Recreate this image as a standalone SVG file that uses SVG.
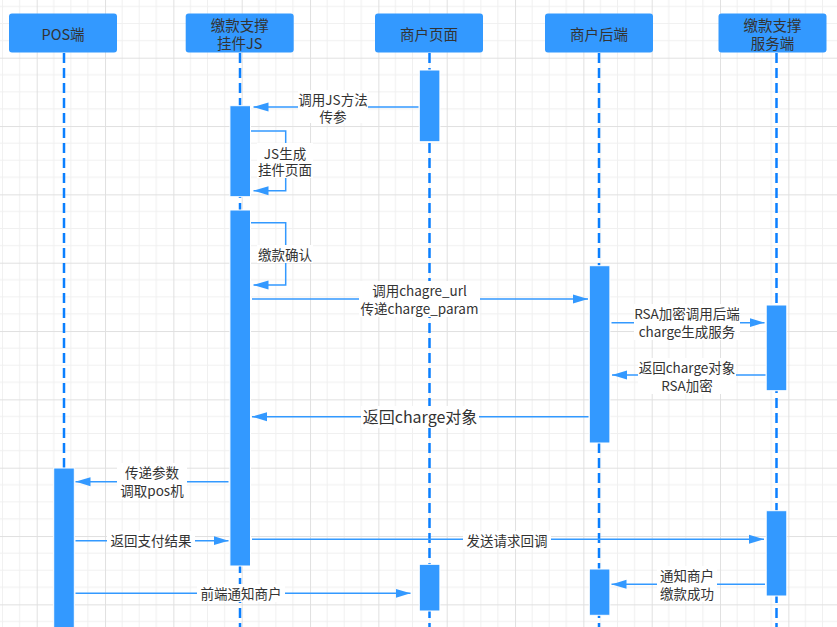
<svg xmlns="http://www.w3.org/2000/svg" width="837" height="627" viewBox="0 0 837 627">
<style>
.hdr{fill:#3399FF;}
.ht{font-family:"Noto Sans CJK SC","Liberation Sans",sans-serif;font-size:14.5px;fill:#333333;text-anchor:middle;dominant-baseline:central;}
.life{stroke:#0A7FFF;stroke-width:2.5;stroke-dasharray:10 5;fill:none;}
.bar{fill:#3399FF;stroke:#ffffff;stroke-width:1;}
.msg{stroke:#3399FF;stroke-width:1.5;fill:none;marker-end:url(#arr);}
.lb{fill:#ffffff;}
.mt{font-family:"Noto Sans CJK SC","Liberation Sans",sans-serif;font-size:13.5px;fill:#333333;text-anchor:middle;dominant-baseline:central;}
.big{font-size:16px;}
</style>
<defs>
<marker id="arr" markerUnits="userSpaceOnUse" markerWidth="15" markerHeight="10" refX="15" refY="5" orient="auto">
<path d="M0,0.5 L15,5 L0,9.5 z" fill="#3399FF"/>
</marker>
<pattern id="grid" patternUnits="userSpaceOnUse" x="36.7" y="57.7" width="68.333" height="68.333">
<path d="M17.083,0V68.333M34.167,0V68.333M51.25,0V68.333M0,17.083H68.333M0,34.167H68.333M0,51.25H68.333" stroke="#f0f0f0" stroke-width="1"/>
<path d="M0.5,0V68.333M0,0.5H68.333" stroke="#e0e0e0" stroke-width="1"/>
</pattern>
</defs>
<rect width="837" height="627" fill="#ffffff"/>
<rect width="837" height="627" fill="url(#grid)"/>

<g id="pos">
<rect class="hdr" x="9" y="13.5" width="108" height="39" rx="3"/>
<text class="ht" x="63" y="33">POS端</text>
<line class="life" x1="64" y1="53" x2="64" y2="627"/>
<rect class="bar" x="53.7" y="468" width="20.6" height="165"/>
</g>

<g id="js">
<rect class="hdr" x="185.7" y="13.5" width="108" height="39" rx="3"/>
<text class="ht" x="239.7" y="24.5">缴款支撑</text>
<text class="ht" x="239.7" y="42.5">挂件JS</text>
<line class="life" x1="240" y1="53" x2="240" y2="627"/>
<rect class="bar" x="229.9" y="105.7" width="20.6" height="91"/>
<rect class="bar" x="229.9" y="210" width="20.6" height="356"/>
</g>

<g id="page">
<rect class="hdr" x="375" y="13.5" width="108" height="39" rx="3"/>
<text class="ht" x="429" y="33">商户页面</text>
<line class="life" x1="429.5" y1="53" x2="429.5" y2="627"/>
<rect class="bar" x="419.3" y="70" width="20.6" height="71.7"/>
<rect class="bar" x="419.3" y="564.3" width="20.6" height="46.7"/>
</g>

<g id="backend">
<rect class="hdr" x="545" y="13.5" width="108" height="39" rx="3"/>
<text class="ht" x="599" y="33">商户后端</text>
<line class="life" x1="599" y1="53" x2="599" y2="627"/>
<rect class="bar" x="589.3" y="265.7" width="20.6" height="177.3"/>
<rect class="bar" x="589.3" y="569" width="20.6" height="46.3"/>
</g>

<g id="service">
<rect class="hdr" x="718.5" y="13.5" width="108" height="39" rx="3"/>
<text class="ht" x="772.5" y="24.5">缴款支撑</text>
<text class="ht" x="772.5" y="42.5">服务端</text>
<line class="life" x1="776.5" y1="53" x2="776.5" y2="627"/>
<rect class="bar" x="766.2" y="305" width="20.6" height="85.7"/>
<rect class="bar" x="766.2" y="510.7" width="20.6" height="85.3"/>
</g>

<g id="connectors">
<path class="msg" d="M418.5,107 H253.5"/>
<rect class="lb" x="298" y="90" width="70" height="33"/>
<text class="mt" x="333" y="99">调用JS方法</text>
<text class="mt" x="333" y="116">传参</text>

<path class="msg" d="M251,131 H285.7 V190.7 H253.5"/>
<rect class="lb" x="257" y="143" width="56" height="35"/>
<text class="mt" x="285" y="152.5">JS生成</text>
<text class="mt" x="285" y="169">挂件页面</text>

<path class="msg" d="M251,222.7 H285.7 V285 H253.5"/>
<rect class="lb" x="257" y="245" width="56" height="18"/>
<text class="mt" x="285" y="254">缴款确认</text>

<path class="msg" d="M252,299 H588"/>
<rect class="lb" x="359" y="281" width="121" height="36"/>
<text class="mt" x="419.5" y="290">调用chagre_url</text>
<text class="mt" x="419.5" y="308">传递charge_param</text>

<path class="msg" d="M611.5,322.7 H764.5"/>
<rect class="lb" x="634" y="304" width="106" height="36"/>
<text class="mt" x="687" y="313">RSA加密调用后端</text>
<text class="mt" x="687" y="331">charge生成服务</text>

<path class="msg" d="M765.5,375 H612"/>
<rect class="lb" x="638" y="358" width="98" height="36"/>
<text class="mt" x="687" y="367">返回charge对象</text>
<text class="mt" x="687" y="385">RSA加密</text>

<path class="msg" d="M588.5,416.7 H252"/>
<rect class="lb" x="361" y="406" width="118" height="22"/>
<text class="mt big" x="420" y="416">返回charge对象</text>

<path class="msg" d="M228.5,481.7 H75.5"/>
<rect class="lb" x="117" y="463" width="70" height="36"/>
<text class="mt" x="152" y="472">传递参数</text>
<text class="mt" x="152" y="490">调取pos机</text>

<path class="msg" d="M75.5,540.7 H228.5"/>
<rect class="lb" x="107" y="531" width="88" height="18"/>
<text class="mt" x="151" y="540">返回支付结果</text>

<path class="msg" d="M252,539.3 H764"/>
<rect class="lb" x="463" y="531" width="88" height="18"/>
<text class="mt" x="507" y="540">发送请求回调</text>

<path class="msg" d="M765,584.3 H611.5"/>
<rect class="lb" x="657" y="566" width="60" height="36"/>
<text class="mt" x="687" y="575">通知商户</text>
<text class="mt" x="687" y="593">缴款成功</text>

<path class="msg" d="M75.5,593.3 H410.5"/>
<rect class="lb" x="197" y="584" width="88" height="18"/>
<text class="mt" x="241" y="593">前端通知商户</text>
</g>
</svg>
